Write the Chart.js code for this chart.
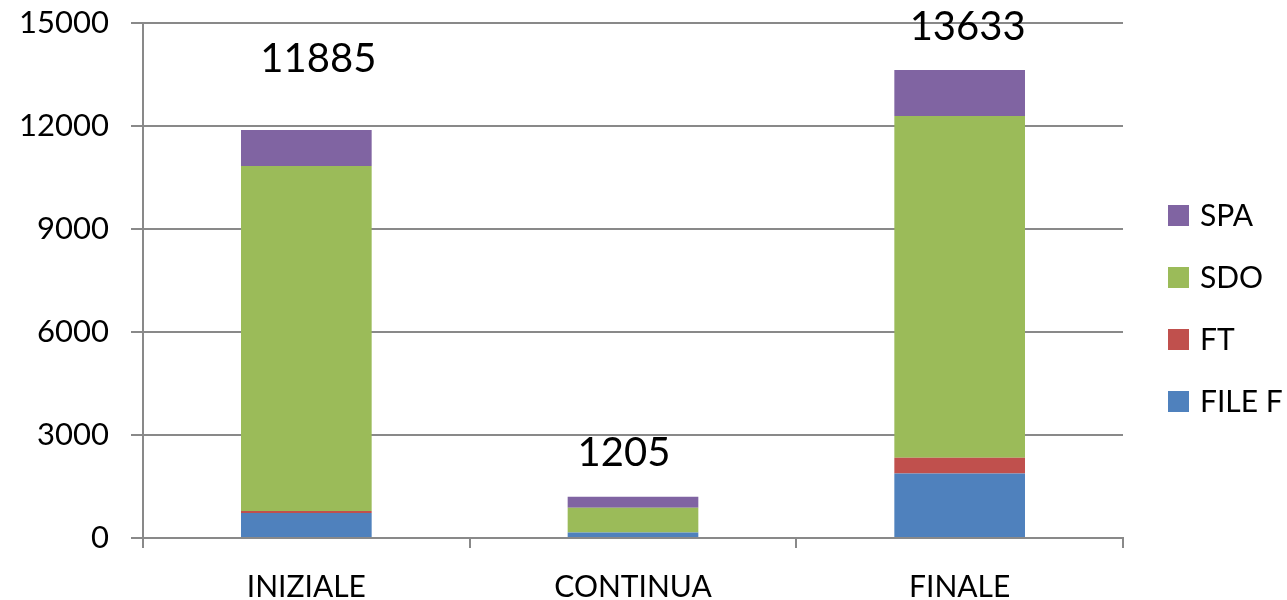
<!DOCTYPE html>
<html>
<head>
<meta charset="utf-8">
<script src="https://cdn.jsdelivr.net/npm/chart.js@4.4.1/dist/chart.umd.min.js"></script>
<style>
  html, body { margin: 0; padding: 0; background: #fff; }
  #wrap { width: 1287px; height: 600px; position: relative; }
</style>
</head>
<body>
<div id="wrap"><canvas id="chart"></canvas></div>
<script>
const categories = ['INIZIALE', 'CONTINUA', 'FINALE'];
const fileF = [730, 160, 1880];
const ft = [60, 0, 460];
const sdo = [10045, 720, 9950];
const spa = [1050, 325, 1343];
const totals = [11885, 1205, 13633];
const yTicks = [0, 3000, 6000, 9000, 12000, 15000];

const FONT = 'Lato, "Open Sans", sans-serif';
const GRID = '#898989';

// totals drawn above each stack
const totalLabels = {
  id: 'totalLabels',
  afterDatasetsDraw(chart, args, opts) {
    const { ctx, scales: { x, y } } = chart;
    ctx.save();
    ctx.font = `40px ${FONT}`;
    ctx.fillStyle = '#000';
    ctx.textAlign = 'center';
    ctx.textBaseline = 'middle';
    totals.forEach((t, i) => {
      ctx.fillText(String(t), x.getPixelForValue(i) + opts.dx[i], y.getPixelForValue(t) - opts.dy[i]);
    });
    ctx.restore();
  }
};

// legend on the right, top to bottom in reverse stack order
const sideLegend = {
  id: 'sideLegend',
  afterDraw(chart, args, opts) {
    const { ctx } = chart;
    const sets = chart.data.datasets.slice().reverse();
    ctx.save();
    ctx.font = `30px ${FONT}`;
    ctx.textBaseline = 'middle';
    ctx.textAlign = 'left';
    sets.forEach((ds, i) => {
      const cy = opts.top + i * opts.gap;
      ctx.fillStyle = ds.backgroundColor;
      ctx.fillRect(opts.left, cy - 10, 21, 21);
      ctx.fillStyle = '#000';
      ctx.fillText(ds.label, opts.left + 32, cy + 1);
    });
    ctx.restore();
  }
};

new Chart(document.getElementById('chart'), {
  type: 'bar',
  data: {
    labels: categories,
    datasets: [
      { label: 'FILE F', data: fileF, backgroundColor: '#4F81BD' },
      { label: 'FT', data: ft, backgroundColor: '#C0504D' },
      { label: 'SDO', data: sdo, backgroundColor: '#9BBB59' },
      { label: 'SPA', data: spa, backgroundColor: '#8064A2' }
    ]
  },
  options: {
    responsive: true,
    maintainAspectRatio: false,
    animation: false,
    datasets: { bar: { categoryPercentage: 1, barPercentage: 0.4, borderWidth: 0 } },
    layout: { padding: { top: 23, right: 164, bottom: 0, left: 0 } },
    plugins: {
      legend: { display: false },
      tooltip: { enabled: false },
      totalLabels: { dx: [12, -9, 8], dy: [71, 44, 43] },
      sideLegend: { left: 1168, top: 215, gap: 62 }
    },
    scales: {
      x: {
        stacked: true,
        afterFit: s => { s.height = 62; s.paddingLeft = 0; s.paddingRight = 0; },
        grid: { drawOnChartArea: false, drawTicks: true, tickLength: 10, color: GRID, lineWidth: 2 },
        border: { color: GRID, width: 2 },
        ticks: { color: '#000', font: { family: FONT, size: 30 }, padding: 21 }
      },
      y: {
        stacked: true,
        min: 0,
        max: 15000,
        afterFit: s => { s.width = 143; s.paddingTop = 0; s.paddingBottom = 0; },
        afterBuildTicks: s => { s.ticks = yTicks.map(v => ({ value: v })); },
        grid: { color: GRID, lineWidth: 2, tickLength: 12 },
        border: { color: GRID, width: 2 },
        ticks: { color: '#000', font: { family: FONT, size: 31 }, padding: 22, callback: v => String(v) }
      }
    }
  },
  plugins: [totalLabels, sideLegend]
});
</script>
</body>
</html>
